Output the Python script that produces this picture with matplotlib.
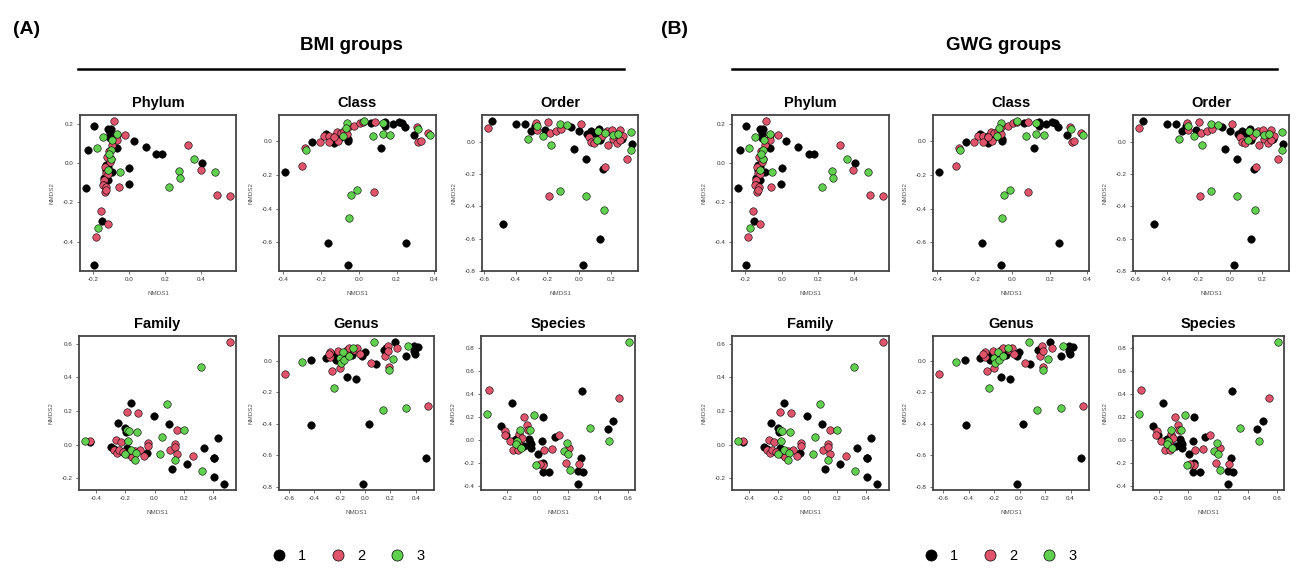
import matplotlib
matplotlib.use("Agg")
import matplotlib.pyplot as plt
from matplotlib.lines import Line2D
from matplotlib.ticker import MultipleLocator, FormatStrFormatter

plt.rcParams['font.family'] = ['Liberation Sans', 'DejaVu Sans']
plt.rcParams['axes.unicode_minus'] = False

# NMDS coordinates, per rank (same samples in A and B)
phylum_x = [-0.198, -0.228, -0.242, -0.195, -0.152, -0.117, -0.103, -0.106, -0.106, -0.066, 0.026, 0.09,
            0.149, 0.18, 0.404, 0.0, -0.002, -0.094, -0.13, -0.13, -0.139, -0.139, -0.117, -0.121,
            -0.084, -0.066, -0.022, -0.066, -0.094, -0.112, -0.103, -0.108, -0.125, -0.136, -0.13, -0.121, -0.139,
            -0.143, -0.149, -0.127, -0.136, -0.13, -0.057, -0.158, -0.117, -0.185, 0.323, 0.396, 0.488, 0.56,
            -0.149, -0.182, -0.097, -0.066, -0.103, -0.103, -0.112, -0.117, -0.053, -0.176, 0.222, 0.277, 0.283, 0.36, 0.475]
phylum_y = [0.188, 0.063, -0.128, -0.52, -0.294, 0.174, 0.174, 0.154, 0.128, 0.077, 0.111, 0.08,
            0.046, 0.046, -0.002, -0.027, -0.109, -0.046, -0.012, -0.034, -0.077, -0.103, -0.02, -0.085,
            0.214, 0.142, 0.144, 0.115, 0.091, 0.058, 0.021, 0.007, 0.029, -0.022, -0.051, -0.055, -0.085,
            -0.111, -0.111, -0.125, -0.15, -0.14, -0.123, -0.243, -0.308, -0.376, 0.089, -0.034, -0.161, -0.168,
            0.132, 0.075, 0.116, 0.145, 0.063, 0.022, 0.043, -0.034, -0.048, -0.33, -0.125, -0.039, -0.079, 0.022, -0.046]
phylum_g = [1] * 24 + [2] * 26 + [3] * 15

class_x = [-0.392, -0.246, -0.163, -0.058, 0.25, -0.132, -0.141, -0.172, -0.097, -0.056, -0.056, 0.063,
           0.141, 0.141, 0.179, 0.214, 0.228, 0.246, 0.293, 0.116,
           -0.302, -0.286, -0.206, -0.185, -0.158, -0.158, -0.127, -0.114, -0.097, -0.109, -0.076, -0.061,
           -0.058, -0.023, 0.005, 0.023, 0.084, 0.081, 0.306, 0.316, 0.364, 0.33, -0.132,
           -0.281, -0.061, -0.069, -0.084, 0.026, 0.074, 0.127, 0.127, 0.167, 0.313, 0.378, -0.012, -0.044, -0.053]
class_y = [-0.184, -0.006, -0.602, -0.736, -0.604, -0.008, 0.008, 0.042, 0.026, 0.016, 0.002, 0.108,
           0.112, 0.092, 0.102, 0.114, 0.106, 0.088, 0.038, -0.042,
           -0.148, -0.04, -0.006, 0.03, 0.032, -0.002, 0.032, 0.056, 0.052, 0.002, 0.064, 0.044,
           0.086, 0.092, 0.108, 0.112, 0.112, -0.3, 0.086, -0.002, 0.048, 0.002, 0.028,
           -0.052, 0.108, 0.08, 0.03, 0.122, 0.032, 0.106, 0.042, 0.036, 0.076, 0.038, -0.29, -0.32, -0.454]
class_g = [1] * 20 + [2] * 23 + [3] * 14

order_x = [-0.55, -0.398, -0.344, -0.306, -0.279, -0.213, -0.05, -0.004, -0.035, 0.044, 0.048, 0.073,
           0.094, 0.127, 0.131, 0.152, 0.131, 0.023, -0.479, 0.215, 0.235, 0.267, 0.333, 0.11,
           -0.575, -0.269, -0.265, -0.194, -0.185, -0.144, -0.115, 0.013, 0.063, 0.073, 0.09, 0.146,
           0.173, 0.179, 0.208, 0.215, 0.256, 0.235, 0.277, 0.256, 0.302, 0.16, -0.188,
           -0.321, -0.265, -0.229, -0.179, -0.119, -0.075, 0.11, 0.117, 0.163, 0.215, 0.246, 0.325,
           0.323, -0.119, 0.042, 0.158]
order_y = [0.131, 0.112, 0.112, 0.069, 0.1, 0.075, 0.09, 0.069, -0.046, -0.104, 0.048, 0.069,
           0.058, 0.083, 0.012, -0.171, -0.602, -0.765, -0.508, 0.048, 0.027, 0.017, -0.01, 0.058,
           0.085, 0.119, 0.075, 0.125, 0.058, 0.069, 0.079, 0.11, 0.031, 0.0, -0.008, 0.037,
           0.065, -0.019, 0.073, 0.017, 0.073, -0.008, 0.037, 0.012, -0.104, -0.156, -0.333,
           0.021, 0.096, 0.037, -0.021, 0.112, 0.104, 0.012, 0.065, 0.058, 0.044, 0.052, 0.06,
           -0.048, -0.306, -0.338, -0.425]
order_g = [1] * 24 + [2] * 23 + [3] * 16

family_x = [-0.441, -0.162, -0.247, -0.201, -0.194, -0.297, -0.281, -0.19, -0.185, -0.053, -0.002, 0.101,
            0.119, 0.222, 0.341, 0.405, 0.411, 0.434, 0.411, 0.478, -0.155,
            0.519, -0.441, -0.263, -0.231, -0.277, -0.259, -0.242, -0.217, -0.185, -0.155, -0.133, -0.098,
            -0.075, -0.048, -0.048, -0.19, -0.114, 0.107, 0.142, 0.142, 0.153, 0.153, 0.263,
            -0.478, 0.318, 0.089, -0.19, -0.174, -0.121, -0.185, -0.16, -0.128, -0.133, 0.05, 0.039,
            0.142, 0.203, 0.325, -0.201]
family_y = [0.016, 0.244, 0.128, 0.099, 0.073, -0.016, -0.024, -0.02, -0.049, -0.053, 0.171, 0.12,
            -0.148, -0.114, -0.022, -0.081, -0.081, 0.039, -0.195, -0.236, -0.039,
            0.611, 0.024, 0.03, 0.016, -0.035, -0.049, -0.033, -0.045, -0.059, -0.075, -0.039, -0.033,
            -0.069, 0.01, -0.01, 0.191, 0.187, -0.033, 0.004, -0.016, -0.055, 0.085, -0.065,
            0.02, 0.461, 0.238, 0.089, 0.079, 0.075, 0.02, -0.03, -0.053, -0.089, 0.045, -0.059,
            -0.093, 0.089, -0.158, -0.055]
family_g = [1] * 21 + [2] * 23 + [3] * 16

genus_x = [-0.429, -0.309, -0.249, -0.231, -0.205, -0.171, -0.145, -0.106, -0.023, -0.003, -0.145, -0.075,
           0.083, 0.148, 0.239, 0.327, 0.387, 0.418, 0.392, 0.387, -0.423, 0.029, -0.018, 0.478, 0.166,
           -0.634, -0.275, -0.275, -0.257, -0.21, -0.197, -0.145, -0.127, -0.086, -0.06, -0.042, 0.044,
           0.161, 0.179, 0.184, 0.187, 0.252, 0.499, -0.288,
           -0.496, -0.242, -0.197, -0.19, -0.164, -0.171, -0.127, -0.094, 0.07, 0.187, 0.221, 0.34,
           0.14, 0.327]
genus_y = [0.004, 0.019, 0.036, 0.004, 0.025, 0.036, 0.042, 0.036, 0.029, 0.057, -0.105, -0.116,
           -0.021, 0.067, 0.12, 0.029, 0.095, 0.088, 0.04, 0.063, -0.411, -0.402, -0.785, -0.617, 0.078,
           -0.086, 0.057, 0.025, -0.065, 0.063, -0.048, 0.067, 0.078, 0.067, 0.082, 0.042, -0.013,
           0.029, 0.095, 0.063, -0.038, 0.082, -0.286, 0.042,
           -0.008, -0.171, 0.015, -0.017, 0.004, 0.057, 0.029, 0.078, 0.116, -0.059, 0.008, 0.095,
           -0.312, -0.301]
genus_g = [1] * 25 + [2] * 19 + [3] * 14

species_x = [-0.24, -0.205, -0.171, -0.141, -0.125, -0.086, -0.058, -0.05, -0.041, -0.043, 0.002, 0.032,
             0.039, 0.037, 0.076, 0.035, 0.115, 0.266, 0.266, 0.288, 0.303, 0.296, 0.465, 0.502, -0.162,
             -0.322, -0.214, -0.184, -0.158, -0.123, -0.119, -0.102, -0.125, -0.091, -0.071, -0.06, 0.043,
             0.097, 0.145, 0.19, 0.212, 0.277, 0.037, 0.543, -0.216, 0.015,
             -0.335, -0.115, -0.05, -0.022, -0.134, -0.141, -0.108, -0.006, 0.175, 0.197, 0.201, 0.216,
             0.35, 0.476, 0.608]
species_y = [0.121, 0.043, 0.322, 0.006, 0.02, -0.052, 0.006, -0.014, -0.066, -0.037, -0.124, -0.003,
             0.201, -0.196, -0.273, -0.273, 0.026, -0.268, -0.383, -0.158, -0.276, 0.429, 0.101, 0.164, -0.009,
             0.437, 0.083, -0.009, -0.086, -0.009, 0.055, 0.02, -0.086, 0.199, 0.129, 0.092, -0.081,
             -0.078, 0.049, -0.201, -0.066, -0.21, -0.216, 0.365, 0.049, -0.204,
             0.227, 0.092, 0.092, 0.222, -0.003, -0.037, -0.072, -0.213, -0.095, -0.026, -0.124, -0.259,
             0.109, -0.003, 0.855]
species_g = [1] * 25 + [2] * 21 + [3] * 15

ranks = ["Phylum", "Class", "Order", "Family", "Genus", "Species"]
xs = [phylum_x, class_x, order_x, family_x, genus_x, species_x]
ys = [phylum_y, class_y, order_y, family_y, genus_y, species_y]
bmi_groups = [phylum_g, class_g, order_g, family_g, genus_g, species_g]
gwg_groups = [list(g) for g in bmi_groups]

colors = {1: "black", 2: "#DF536B", 3: "#61D04F"}

W, H = 1314, 583
fig = plt.figure(figsize=(W / 100, H / 100), dpi=100)


def box(l, t, r, b):
    return [l / W, 1 - b / H, (r - l) / W, (b - t) / H]


boxes_a = [(80, 115, 236, 271), (279, 115, 436, 271), (482, 115, 638, 271),
           (79, 336, 236, 490), (279, 336, 434, 490), (481, 336, 635, 490)]
boxes_b = [(732, 115, 889, 271), (933, 115, 1089, 271), (1133, 115, 1289, 271),
           (732, 336, 889, 490), (933, 336, 1089, 490), (1133, 336, 1284, 490)]


def panel(rect, name, x, y, g):
    ax = fig.add_axes(box(*rect))
    for k in [1, 2, 3]:
        px = [a for a, c in zip(x, g) if c == k]
        py = [b for b, c in zip(y, g) if c == k]
        ax.scatter(px, py, s=29, c=colors[k], edgecolors="black", linewidths=0.4, zorder=3)
    ax.margins(0.04)
    ax.xaxis.set_major_locator(MultipleLocator(0.2))
    ax.yaxis.set_major_locator(MultipleLocator(0.2))
    ax.xaxis.set_major_formatter(FormatStrFormatter('%.1f'))
    ax.yaxis.set_major_formatter(FormatStrFormatter('%.1f'))
    ax.tick_params(labelsize=4.5, length=2.5, width=0.5, pad=2, colors="#333333")
    for s in ax.spines.values():
        s.set_linewidth(1.3)
        s.set_color("#444444")
    ax.set_xlabel("NMDS1", fontsize=4.5, color="#555555", labelpad=6)
    ax.set_ylabel("NMDS2", fontsize=4.5, color="#555555", labelpad=6)
    ax.set_title(name, fontsize=10.5, fontweight="bold", pad=6)


for i in range(6):
    panel(boxes_a[i], ranks[i], xs[i], ys[i], bmi_groups[i])
    panel(boxes_b[i], ranks[i], xs[i], ys[i], gwg_groups[i])

fig.text(13 / W, 1 - 30 / H, "(A)", fontsize=14, fontweight="bold", va="center")
fig.text(661 / W, 1 - 30 / H, "(B)", fontsize=14, fontweight="bold", va="center")
fig.text(351 / W, 1 - 45 / H, "BMI groups", fontsize=13.5, fontweight="bold", ha="center", va="center")
fig.text(1004 / W, 1 - 45 / H, "GWG groups", fontsize=13.5, fontweight="bold", ha="center", va="center")
fig.add_artist(Line2D([78 / W, 624 / W], [1 - 69 / H, 1 - 69 / H], color="black", lw=1.8))
fig.add_artist(Line2D([732 / W, 1277 / W], [1 - 69 / H, 1 - 69 / H], color="black", lw=1.8))

handles = [Line2D([], [], marker="o", ls="", markersize=8, markerfacecolor=colors[k],
                  markeredgecolor="black", markeredgewidth=0.5) for k in [1, 2, 3]]
labels = ["1", "2", "3"]
for cx in [348, 1000]:
    fig.legend(handles, labels, loc="center", bbox_to_anchor=(cx / W, 1 - 556 / H), ncol=3,
               frameon=False, fontsize=10.5, handletextpad=0.8, columnspacing=1.7, handlelength=1)

fig.savefig("out.png", dpi=100)
